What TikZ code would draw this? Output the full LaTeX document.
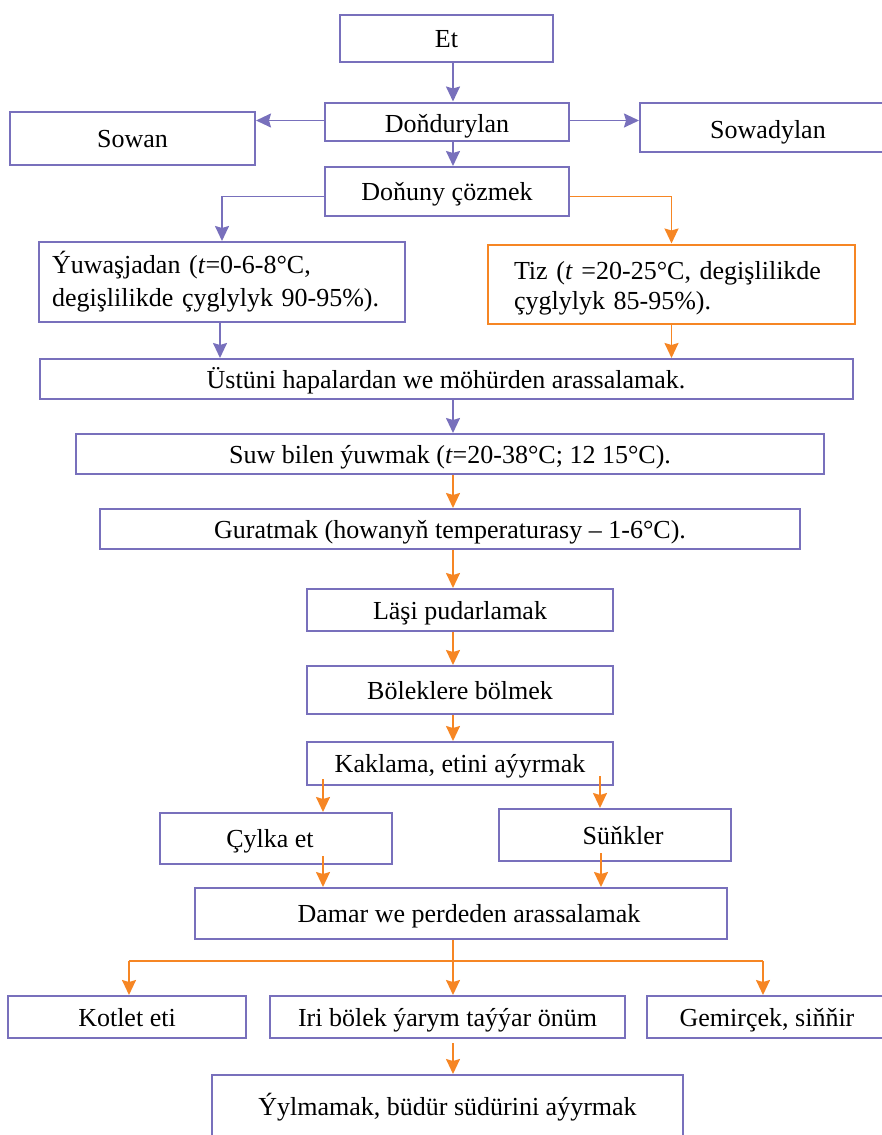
\documentclass[tikz,border=0pt]{standalone}
\usepackage{fontspec}
\setmainfont{Liberation Serif}
\usetikzlibrary{arrows.meta}
\definecolor{bl}{RGB}{120,112,188}
\definecolor{og}{RGB}{246,134,36}
\tikzset{
  base/.style={draw=bl, line width=2pt, inner sep=0pt, font=\fontsize{26}{31}\selectfont},
  box/.style={base, text height=24pt, text depth=6pt},
  barr/.style={draw=bl, line width=1.8pt, -{Stealth[length=15pt,width=14pt,inset=2pt]}},
  oarr/.style={draw=og, line width=1.8pt, -{Stealth[length=15pt,width=14pt,inset=2pt]}},
  oline/.style={draw=og, line width=1.8pt},
}
\newcommand{\bx}[6]{% style, name, cx, cy, w, h, text
  \node[#1, minimum width=#5pt, minimum height=#6pt] (#2) at (#3,#4)}
\begin{document}
\begin{tikzpicture}[x=1pt,y=-1pt]
\clip (0,0) rectangle (882,1135);
\coordinate (sp) at (453,0);
\coordinate (cl) at (323,0);
\coordinate (cr) at (600,0);
\coordinate (crb) at (601,0);
\coordinate (kx) at (129,0);
\coordinate (gx) at (763,0);
\coordinate (yx) at (220,0);
\coordinate (br) at (453,961);

\bx{box}{et}{446.5}{38.5}{213}{47} {Et};
\bx{box, text height=26pt, text depth=4pt}{don}{447}{121.5}{244}{38} {Doňdurylan};
\bx{box}{sowan}{132.5}{138.5}{245}{53} {Sowan};
\bx{box, text height=26pt, text depth=4pt}{sowad}{768}{127.5}{256}{49} {Sowadylan};
\bx{box}{coz}{447}{191.5}{244}{49} {Doňuny çözmek};
\node[base, minimum width=366pt, minimum height=80pt, text width=340pt, align=left, inner xsep=13pt,
  font=\fontsize{26}{33}\selectfont] (yuw) at (222,282)
  {Ýuwaşjadan (\textit{t}=0-6-8°C,\\degişlilikde çyglylyk 90-95\%).};
\node[base, draw=og, minimum width=367pt, minimum height=79pt, text width=315pt, align=left, inner xsep=26pt,
  font=\fontsize{26}{30}\selectfont] (tiz) at (671.5,284)
  {\rule{0pt}{27pt}Tiz (\textit{t} =20-25°C, degişlilikde\\çyglylyk 85-95\%).};
\bx{box}{ust}{446}{379}{813}{40} {Üstüni hapalardan we möhürden arassalamak.};
\bx{box}{suw}{450}{454}{748}{40} {Suw bilen ýuwmak (\textit{t}=20-38°C; 12 15°C).};
\bx{box}{gur}{450}{529}{700}{40} {Guratmak (howanyň temperaturasy – 1-6°C).};
\bx{box}{las}{460}{610}{306}{42} {Läşi pudarlamak};
\bx{box}{bol}{460}{690}{306}{48} {Böleklere bölmek};
\bx{box}{kak}{460}{763.5}{306}{43} {Kaklama, etini aýyrmak};
\bx{box}{cyl}{276}{838.5}{232}{51} {\hspace*{-12pt}Çylka et};
\bx{box}{sun}{615}{835}{232}{52} {\hspace*{16pt}Süňkler};
\bx{box}{dam}{461}{913.5}{532}{51} {\hspace*{16pt}Damar we perdeden arassalamak};
\bx{box}{kot}{127}{1017}{238}{42} {Kotlet eti};
\bx{box}{iri}{447.5}{1017}{355}{42} {Iri bölek ýarym taýýar önüm};
\bx{box}{gem}{767}{1017}{240}{42} {Gemirçek, siňňir};
\bx{box}{ylm}{447.5}{1106}{471}{62} {Ýylmamak, büdür südürini aýyrmak};

\coordinate (dw) at ([yshift=1pt]don.west);
\coordinate (de) at ([yshift=1pt]don.east);
\coordinate (cw) at ([yshift=-5pt]coz.west);
\coordinate (ce) at ([yshift=-5pt]coz.east);
% blue connectors
\draw[barr] (et.south -| sp) -- (don.north -| sp);
\draw[barr] (dw) -- (sowan.east |- dw);
\draw[barr] (de) -- (sowad.west |- de);
\draw[barr] (don.south -| sp) -- (coz.north -| sp);
\draw[barr] (cw) -| (yuw.north);
\draw[barr] (yuw.south -| yx) -- (ust.north -| yx);
\draw[barr] (ust.south -| sp) -- (suw.north -| sp);
% orange connectors
\draw[oarr] (ce) -| (tiz.north);
\draw[oarr] (tiz.south) -- (ust.north -| tiz.south);
\draw[oarr] (suw.south -| sp) -- (gur.north -| sp);
\draw[oarr] (gur.south -| sp) -- (las.north -| sp);
\draw[oarr] (las.south -| sp) -- (bol.north -| sp);
\draw[oarr] (bol.south -| sp) -- (kak.north -| sp);
\draw[oarr] ([yshift=7pt]kak.south -| cl) -- (cyl.north -| cl);
\draw[oarr] ([yshift=10pt]kak.south -| cr) -- (sun.north -| cr);
\draw[oarr] ([yshift=9pt]cyl.south -| cl) -- (dam.north -| cl);
\draw[oarr] ([yshift=9pt]sun.south -| crb) -- (dam.north -| crb);
\draw[oarr] (dam.south -| sp) -- (iri.north -| sp);
\draw[oarr] (br -| kx) -- (kot.north -| kx);
\draw[oarr] (br -| gx) -- (gem.north -| gx);
\draw[oline] (br -| kx) -- (br -| gx);
\draw[oarr] ([yshift=-4pt]iri.south -| sp) -- (ylm.north -| sp);
\end{tikzpicture}
\end{document}
